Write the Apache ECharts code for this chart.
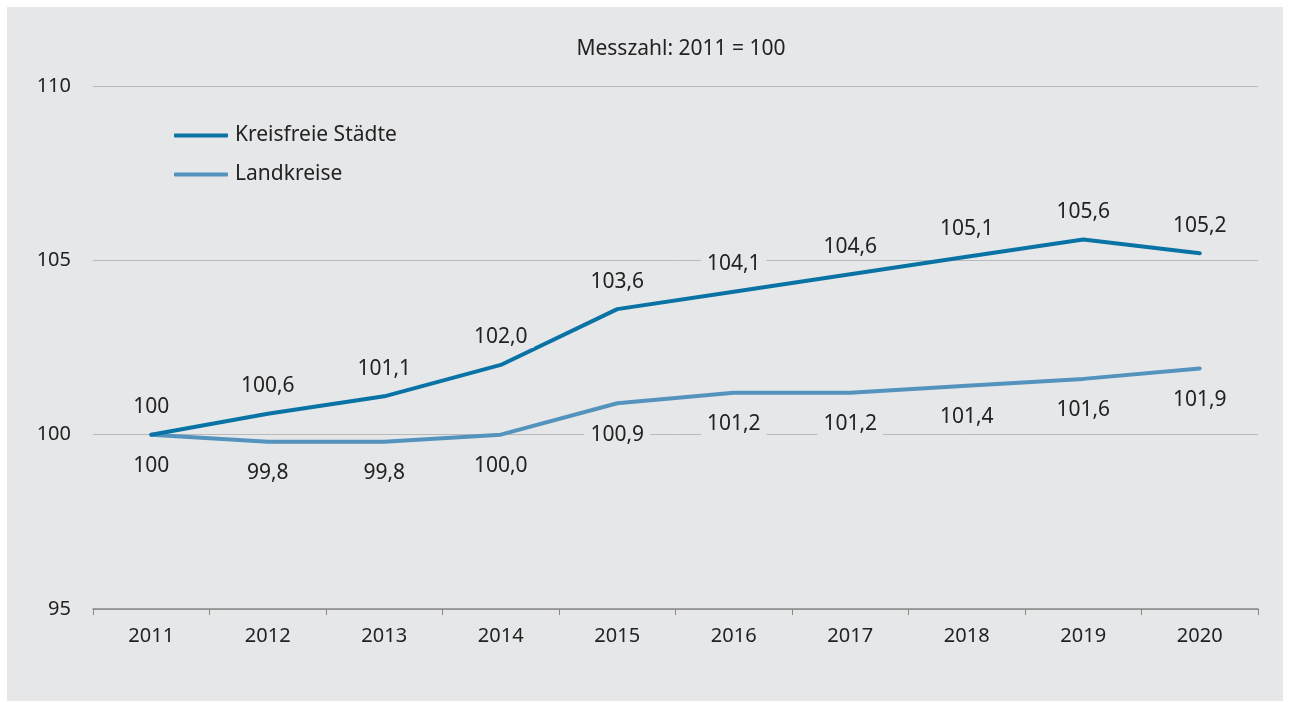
<!DOCTYPE html>
<html>
<head>
<meta charset="utf-8">
<script src="https://cdn.jsdelivr.net/npm/echarts@6/dist/echarts.min.js"></script>
<style>
  html, body { margin: 0; padding: 0; background: #ffffff; }
  #chart { position: absolute; left: 7px; top: 7px; width: 1276px; height: 694px; background: #e6e7e9; }
</style>
</head>
<body>
<div id="chart"></div>
<script>
var years = ['2011', '2012', '2013', '2014', '2015', '2016', '2017', '2018', '2019', '2020'];
var staedte = [100, 100.6, 101.1, 102.0, 103.6, 104.1, 104.6, 105.1, 105.6, 105.2];
var landkreise = [100, 99.8, 99.8, 100.0, 100.9, 101.2, 101.2, 101.4, 101.6, 101.9];
var yTicks = [95, 100, 105, 110];

var bg = '#e6e7e9';
var fontFam = '"Noto Sans", "Open Sans", sans-serif';

function fmt(p) {
    // erster Wert ohne Nachkommastelle, wie im Original
    if (p.dataIndex === 0) return '100';
    return p.value.toFixed(1).replace('.', ',');
}

var myChart = echarts.init(document.getElementById('chart'));
var option = {
    backgroundColor: bg,
    animation: false,
    textStyle: { fontFamily: fontFam, color: '#222' },
    title: {
        text: 'Messzahl: 2011 = 100',
        left: 669,
        top: 27,
        textAlign: 'center',
        textStyle: { fontFamily: fontFam, fontSize: 21, fontWeight: 'normal', color: '#222' }
    },
    legend: {
        orient: 'vertical',
        left: 162,
        top: 113,
        itemGap: 18,
        itemWidth: 54,
        itemHeight: 4,
        icon: 'roundRect',
        textStyle: { fontFamily: fontFam, fontSize: 21, color: '#222', padding: [0, 0, 0, 2] },
        data: ['Kreisfreie Städte', 'Landkreise']
    },
    grid: { left: 86, right: 25, top: 79, bottom: 92 },
    xAxis: {
        type: 'category',
        data: years,
        boundaryGap: true,
        axisLine: { lineStyle: { color: '#888', width: 1.5 } },
        axisTick: { show: true, length: 6, lineStyle: { color: '#888' } },
        axisLabel: { margin: 17, fontSize: 20, color: '#222', fontFamily: fontFam }
    },
    yAxis: {
        type: 'value',
        min: yTicks[0],
        max: yTicks[yTicks.length - 1],
        interval: 5,
        axisLine: { show: false },
        axisTick: { show: false },
        axisLabel: { margin: 22, fontSize: 20, color: '#222', fontFamily: fontFam },
        splitLine: { lineStyle: { color: '#b8b9bb', width: 1 } }
    },
    series: [
        {
            name: 'Kreisfreie Städte',
            type: 'line',
            data: staedte,
            symbol: 'circle',
            symbolSize: 0.1,
            z: 3,
            lineStyle: { color: '#0a73a5', width: 4, cap: 'round' },
            itemStyle: { color: '#0a73a5' },
            label: {
                show: true,
                position: 'top',
                distance: 17,
                fontSize: 21,
                color: '#222',
                fontFamily: fontFam,
                backgroundColor: bg,
                padding: [0, 6],
                formatter: fmt
            }
        },
        {
            name: 'Landkreise',
            type: 'line',
            data: landkreise,
            symbol: 'circle',
            symbolSize: 0.1,
            z: 2,
            lineStyle: { color: '#5393bd', width: 4, cap: 'round' },
            itemStyle: { color: '#5393bd' },
            label: {
                show: true,
                position: 'bottom',
                distance: 21,
                fontSize: 21,
                color: '#222',
                fontFamily: fontFam,
                backgroundColor: bg,
                padding: [0, 6],
                formatter: fmt
            }
        }
    ]
};
myChart.setOption(option, true);
</script>
</body>
</html>
